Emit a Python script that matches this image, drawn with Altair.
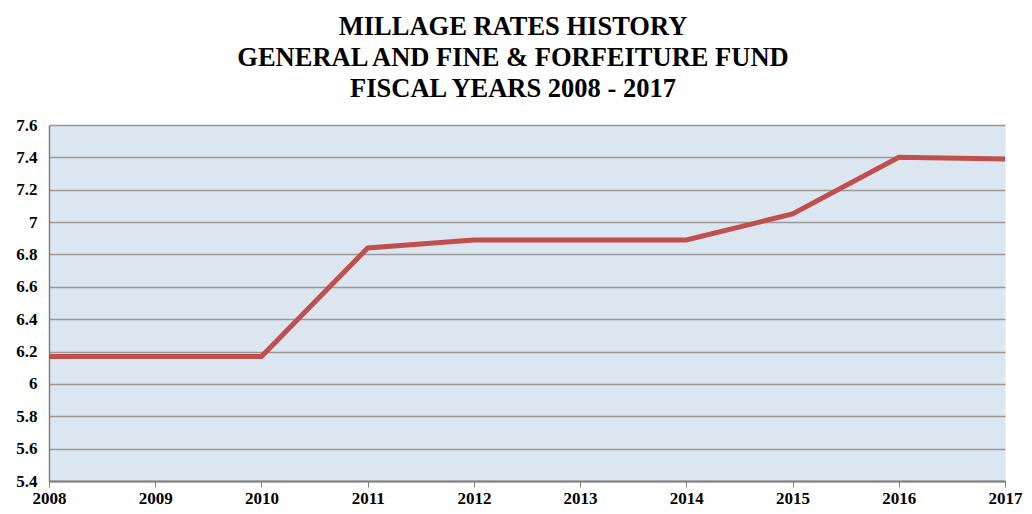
import altair as alt
import pandas as pd

years = [2008, 2009, 2010, 2011, 2012, 2013, 2014, 2015, 2016, 2017]
rates = [6.17, 6.17, 6.17, 6.84, 6.89, 6.89, 6.89, 7.05, 7.40, 7.39]
y_ticks = [5.4, 5.6, 5.8, 6.0, 6.2, 6.4, 6.6, 6.8, 7.0, 7.2, 7.4, 7.6]
title_lines = ["MILLAGE RATES HISTORY",
               "GENERAL AND FINE & FORFEITURE FUND",
               "FISCAL YEARS 2008 - 2017"]

df = pd.DataFrame({"year": years, "rate": rates})

label_font = "Liberation Serif"

chart = alt.Chart(df).mark_line(color="#C0504D", strokeWidth=5).encode(
    x=alt.X("year:Q", scale=alt.Scale(domain=[2008, 2017], nice=False, zero=False),
            axis=alt.Axis(values=years, format="d", title=None, grid=False,
                          labelFont=label_font, labelFontWeight="bold",
                          labelFontSize=17, labelColor="black", labelPadding=3,
                          domainColor="#808080", domainWidth=2,
                          tickColor="#808080", tickSize=6, tickWidth=1,
                          labelFlush=False)),
    y=alt.Y("rate:Q", scale=alt.Scale(domain=[5.4, 7.6], nice=False, zero=False),
            axis=alt.Axis(values=y_ticks, format="~g", title=None, grid=True,
                          gridColor="#999999", gridWidth=1.5,
                          labelFont=label_font, labelFontWeight="bold",
                          labelFontSize=17, labelColor="black", labelPadding=12,
                          domainColor="#808080", domainWidth=1.5,
                          ticks=False))
).properties(
    width=956, height=356,
    autosize=alt.AutoSizeParams(type="none"),
    padding={"left": 41, "top": 117, "right": 19, "bottom": 25},
    title=alt.TitleParams(text=title_lines, font="Liberation Serif",
                          fontSize=26.5, fontWeight="bold", color="black",
                          anchor="middle", lineHeight=31, offset=14, dx=-14),
).configure(
    background="white"
).configure_view(
    fill="#DCE6F1", stroke="transparent"
)

chart.save("out.html", embed_options={"renderer": "svg", "actions": False})
